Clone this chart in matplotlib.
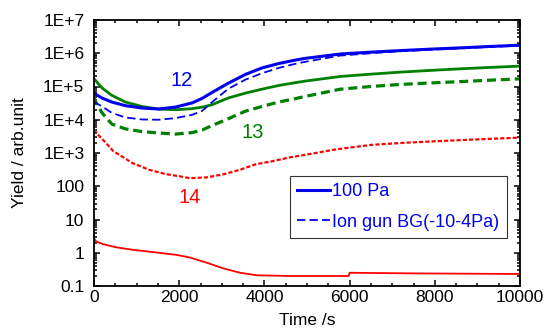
import numpy as np
import matplotlib
matplotlib.use('Agg')
import matplotlib.pyplot as plt
from matplotlib.ticker import LogLocator, FuncFormatter, MultipleLocator, NullFormatter

plt.rcParams['font.family'] = ['Liberation Sans', 'DejaVu Sans']
plt.rcParams['lines.scale_dashes'] = False

# ---- data (time in s, yield in arb. unit) ----
t_main = [0, 30, 190, 420, 740, 1130, 1520, 1910, 2300, 2540, 2760, 3150, 3550,
          3940, 4330, 4720, 4950, 5780, 6500, 7180, 7900, 8590, 9300, 10000]
blue_100pa = [6.5e4, 5.9e4, 4.5e4, 3.4e4, 2.65e4, 2.25e4, 2.1e4, 2.4e4, 3.2e4, 4.4e4,
              6.5e4, 1.25e5, 2.3e5, 3.6e5, 4.9e5, 6.2e5, 7e5, 9.5e5, 1.08e6, 1.2e6,
              1.33e6, 1.45e6, 1.6e6, 1.75e6]
blue_bg = [3.6e4, 3.3e4, 2.5e4, 1.6e4, 1.17e4, 1.02e4, 1e4, 1.12e4, 1.4e4, 1.85e4,
           3.3e4, 8.5e4, 1.6e5, 2.5e5, 3.6e5, 4.8e5, 5.5e5, 8.5e5, 1.0e6, 1.15e6,
           1.28e6, 1.4e6, 1.55e6, 1.7e6]
green_100pa = [1.7e5, 1.55e5, 9e4, 5.4e4, 3.4e4, 2.5e4, 2.1e4, 2e4, 2.15e4, 2.4e4,
               2.8e4, 4.5e4, 6.3e4, 8.3e4, 1.07e5, 1.3e5, 1.45e5, 2e5, 2.35e5, 2.7e5,
               3.05e5, 3.4e5, 3.75e5, 4.1e5]
green_bg = [5e4, 3.6e4, 1.6e4, 7.4e3, 5.3e3, 4.4e3, 4e3, 3.7e3, 4.1e3, 4.9e3, 6.6e3,
            1.07e4, 1.8e4, 2.5e4, 3.4e4, 4.3e4, 5e4, 8.3e4, 1e5, 1.15e5, 1.28e5,
            1.4e5, 1.55e5, 1.7e5]

t_red_bg = [0, 100, 250, 450, 900, 1300, 1700, 2000, 2250, 2650, 3050, 3450, 3800,
            4200, 4600, 5000, 5700, 6500, 7200, 8000, 8800, 9400, 10000]
red_bg = [5e3, 3.5e3, 2.2e3, 1.15e3, 500, 310, 230, 200, 175, 185, 230, 320, 460,
          570, 740, 900, 1.3e3, 1.75e3, 2e3, 2.25e3, 2.5e3, 2.7e3, 2.9e3]
t_red = [0, 50, 215, 530, 920, 1470, 1940, 2250, 2650, 3030, 3430, 3820, 4600,
         5980, 6000, 7430, 9920, 10000]
red_100pa = [2.7, 2.2, 1.8, 1.45, 1.22, 1.02, 0.86, 0.72, 0.5, 0.34, 0.25, 0.21, 0.2,
             0.2, 0.25, 0.24, 0.23, 0.23]

BLUE = '#0000ee'
GREEN = '#008000'
RED = '#ff0000'


def yfmt(v, pos):
    if v >= 1000:
        return '1E+%d' % round(np.log10(v))
    if v >= 1:
        return '%d' % round(v)
    return '%g' % v


fig = plt.figure(figsize=(5.54, 3.30), dpi=100)
ax = fig.add_axes([94 / 554, 44 / 330, 426 / 554, 266 / 330])

ax.plot(t_main, green_100pa, color=GREEN, lw=2.0)
ax.plot(t_main, green_bg, color=GREEN, lw=2.3, dashes=(6.5, 3.5))
ax.plot(t_red_bg, red_bg, color=RED, lw=1.6, dashes=(3, 1.5))
ax.plot(t_red, red_100pa, color=RED, lw=1.3)
ax.plot(t_main, blue_100pa, color=BLUE, lw=2.2, label='100 Pa')
ax.plot(t_main, blue_bg, color=BLUE, lw=1.3, dashes=(6, 3), label='Ion gun BG(-10-4Pa)')

ax.text(2066, 1.5e5, '12', color=BLUE, fontsize=14.5, ha='center', va='center')
ax.text(3730, 4.2e3, '13', color=GREEN, fontsize=14.5, ha='center', va='center')
ax.text(2250, 47, '14', color=RED, fontsize=14.5, ha='center', va='center')

ax.set_yscale('log')
ax.set_xlim(0, 10000)
ax.set_ylim(0.1, 1e7)
ax.xaxis.set_major_locator(MultipleLocator(2000))
ax.xaxis.set_minor_locator(MultipleLocator(500))
ax.yaxis.set_major_locator(LogLocator(base=10, numticks=20))
ax.yaxis.set_minor_locator(LogLocator(base=10, subs=np.arange(2, 10), numticks=20))
ax.yaxis.set_major_formatter(FuncFormatter(yfmt))
ax.yaxis.set_minor_formatter(NullFormatter())

ax.tick_params(which='both', direction='in', top=True, right=True, width=1.1,
               labelsize=12.5)
ax.tick_params(which='major', length=4.5)
ax.tick_params(which='minor', length=2.3)
ax.tick_params(axis='y', pad=7)
ax.tick_params(axis='x', pad=3)
for s in ax.spines.values():
    s.set_linewidth(1.3)

ax.set_xlabel('Time /s', fontsize=12.5)
ax.set_ylabel('Yield / arb.unit', fontsize=12.5)
ax.xaxis.set_label_coords(0.5, -0.1)
ax.yaxis.set_label_coords(-0.157, 0.5)

leg = ax.legend(loc='upper left', bbox_to_anchor=(0.46, 0.414), borderaxespad=0,
                fontsize=13, frameon=True, fancybox=False, handlelength=1.8,
                handletextpad=0.15, labelspacing=0.75, borderpad=0.4)
leg.get_frame().set_edgecolor('black')
leg.get_frame().set_linewidth(0.8)
for txt in leg.get_texts():
    txt.set_color(BLUE)

fig.savefig('out.png', dpi=100)
